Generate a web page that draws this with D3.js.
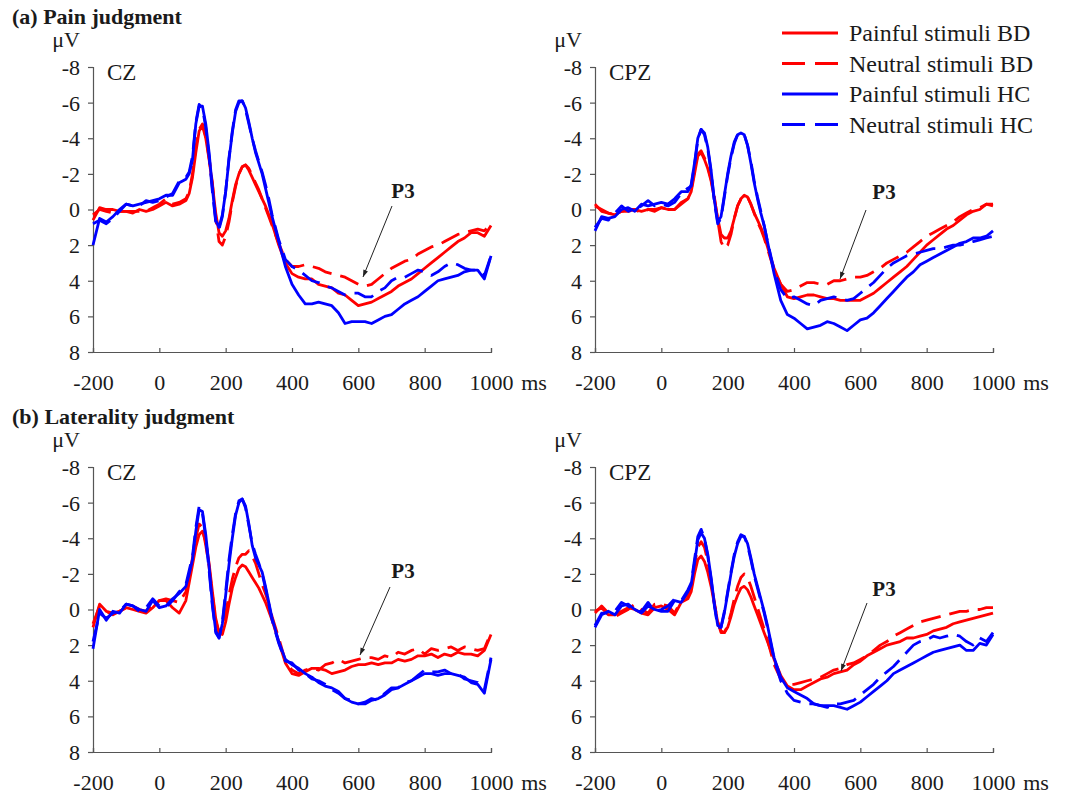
<!DOCTYPE html>
<html>
<head>
<meta charset="utf-8">
<script src="https://cdn.jsdelivr.net/npm/d3@7"></script>
<style>
  html, body { margin: 0; padding: 0; background: #fff; }
  svg { display: block; }
  text { font-family: "Liberation Serif", "Times New Roman", serif; fill: #1a1a1a; }
</style>
</head>
<body>
<svg id="chart" width="1069" height="794"></svg>
<script>
// ---------- DATA ----------
const time = [-200,-180,-160,-140,-120,-100,-80,-60,-40,-20,0,20,40,60,
  80,90,100,110,120,130,140,150,160,170,180,190,200,210,220,230,240,250,260,270,280,290,300,310,320,330,340,
  360,380,400,420,440,460,480,500,520,540,560,580,600,620,640,660,680,700,720,740,760,780,800,820,840,860,880,900,920,940,960,980,1000];

const yTicks = [-8,-6,-4,-2,0,2,4,6,8];
const xTicks = [-200,0,200,400,600,800,1000];

const seriesNames = ["Painful stimuli BD","Neutral stimuli BD","Painful stimuli HC","Neutral stimuli HC"];
const seriesColors = ["#ff0000","#ff0000","#0000ff","#0000ff"];
const seriesDashed = [false,true,false,true];

const panelTitles = ["(a) Pain judgment","(b) Laterality judgment"];
const electrodes = ["CZ","CPZ","CZ","CPZ"];

// (a) Pain judgment, CZ
const painCZ_pBD = [0.6,-0.1,0,0,0.1,0.1,0.2,0,0.1,0,-0.2,-0.4,-0.2,-0.3,
  -0.5,-0.9,-1.8,-3.2,-4.4,-4.7,-4.0,-2.8,-1.4,0.2,1.3,1.5,1.2,0.5,-0.5,-1.4,-2.0,-2.4,-2.5,-2.2,-1.8,-1.4,-1.0,-0.6,-0.2,0.3,0.8,
  2.0,3.0,3.6,3.8,3.9,3.9,4.2,4.3,4.4,4.7,4.8,5.1,5.4,5.3,5.2,5.0,4.8,4.6,4.3,4.1,3.9,3.6,3.3,3.0,2.7,2.4,2.1,1.8,1.6,1.3,1.3,1.5,0.9];
const painCZ_nBD = [0.3,0,0.1,0.2,0.1,0.1,0.1,0.1,0.1,-0.1,-0.3,-0.6,-0.3,-0.4,
  -0.6,-1.0,-2.0,-3.5,-4.5,-4.8,-4.1,-2.9,-1.5,0.5,1.8,2.0,1.5,0.7,-0.4,-1.3,-2.0,-2.4,-2.5,-2.3,-1.9,-1.5,-1.1,-0.6,-0.1,0.4,0.9,
  1.9,2.8,3.2,3.2,3.1,3.2,3.3,3.5,3.6,3.7,3.8,4.0,4.2,4.3,4.2,3.9,3.6,3.3,3.1,2.9,2.8,2.5,2.3,2.1,2.0,1.8,1.6,1.4,1.3,1.2,1.1,1.2,0.8];
const painCZ_pHC = [2.0,0.5,0.7,0.4,0,-0.3,-0.2,-0.3,-0.4,-0.5,-0.6,-0.8,-0.8,-1.5,
  -1.7,-2.0,-2.8,-4.8,-5.8,-5.8,-4.8,-3.2,-1.2,0.6,1.0,0.3,-1.0,-2.8,-4.3,-5.5,-6.0,-6.1,-5.7,-4.9,-4.0,-3.2,-2.6,-2.0,-1.2,-0.4,0.4,
  1.8,3.2,4.2,4.8,5.3,5.3,5.2,5.3,5.4,5.8,6.4,6.3,6.3,6.3,6.4,6.2,6.0,5.9,5.6,5.3,5.1,4.9,4.6,4.3,4.0,3.9,3.8,3.7,3.5,3.4,3.4,3.9,2.6];
const painCZ_nHC = [0.8,0.6,0.8,0.5,0.1,-0.3,-0.2,-0.2,-0.5,-0.4,-0.5,-0.7,-0.9,-1.6,
  -1.8,-2.1,-3.0,-4.9,-5.9,-5.7,-4.6,-3.0,-1.0,0.7,1.1,0.4,-1.0,-2.9,-4.4,-5.6,-6.1,-6.1,-5.6,-4.8,-4.0,-3.3,-2.7,-2.1,-1.4,-0.6,0.3,
  1.7,2.8,3.2,3.4,3.7,4.0,4.1,4.3,4.4,4.6,4.8,4.7,4.7,4.9,4.9,4.6,4.4,4.0,3.8,3.8,3.6,3.4,3.5,3.7,3.5,3.2,3.0,3.1,3.3,3.4,3.4,3.7,2.6];

// (a) Pain judgment, CPZ
const painCPZ_pBD = [-0.2,0,0.2,0.3,0.1,0,0,0.1,0,0,-0.1,0,0,-0.3,
  -0.6,-1.0,-2.0,-3.0,-3.2,-2.8,-2.3,-1.6,-0.6,0.5,1.4,1.6,1.6,1.2,0.5,-0.2,-0.6,-0.8,-0.7,-0.3,0.2,0.6,1.0,1.5,2.1,2.7,3.3,
  4.2,4.9,5.0,4.9,4.8,4.8,4.9,5.0,5.0,5.1,5.1,5.1,5.1,4.9,4.7,4.4,4.1,3.8,3.5,3.2,2.8,2.4,2.0,1.7,1.4,1.1,0.9,0.6,0.3,0.1,0,-0.3,-0.3];
const painCPZ_nBD = [-0.3,0.1,0.2,0.3,0.1,0.1,0,0.2,0,0.1,-0.1,0,0,-0.4,
  -0.6,-1.1,-2.2,-3.1,-3.3,-2.9,-2.4,-1.7,-0.7,0.6,1.8,2.2,2.0,1.4,0.5,-0.2,-0.6,-0.8,-0.7,-0.3,0.2,0.7,1.1,1.6,2.2,2.8,3.4,
  4.2,4.6,4.5,4.3,4.1,4.1,4.2,4.2,4.0,4.0,3.9,3.8,3.8,3.7,3.5,3.3,3.0,2.8,2.6,2.4,2.1,1.8,1.5,1.3,1.1,0.9,0.7,0.4,0.2,0,-0.1,-0.3,-0.2];
const painCPZ_pHC = [1.2,0.4,0.5,0.4,0,-0.1,0.1,-0.3,-0.2,-0.3,-0.4,-0.3,-0.6,-1.0,
  -1.0,-1.4,-2.6,-4.0,-4.5,-4.3,-3.5,-2.2,-0.5,0.7,0.4,-0.8,-2.0,-3.0,-3.8,-4.2,-4.3,-4.2,-3.6,-2.6,-1.5,-0.6,0.2,0.9,1.8,2.7,3.6,
  5.1,5.9,6.1,6.4,6.7,6.6,6.5,6.3,6.4,6.6,6.8,6.5,6.2,6.1,5.8,5.4,5.0,4.6,4.2,3.8,3.5,3.1,2.9,2.7,2.5,2.3,2.1,1.9,1.8,1.6,1.6,1.5,1.2];
const painCPZ_nHC = [1.0,0.5,0.6,0.2,-0.2,0.1,0,-0.2,-0.5,-0.2,-0.3,-0.2,-0.4,-0.9,
  -1.2,-1.3,-2.5,-3.9,-4.5,-4.2,-3.4,-2.1,-0.4,0.8,0.5,-0.7,-1.9,-2.9,-3.7,-4.2,-4.3,-4.2,-3.6,-2.7,-1.6,-0.7,0.1,0.9,1.8,2.6,3.4,
  4.5,5.0,4.9,5.1,5.3,5.4,5.1,5.0,4.9,5.0,5.1,5.0,4.7,4.4,4.1,3.7,3.3,3.0,2.8,2.6,2.5,2.4,2.3,2.2,2.2,2.1,2.0,2.0,1.9,1.8,1.7,1.6,1.5];

// (b) Laterality judgment, CZ
const latCZ_pBD = [1.0,-0.3,0.1,0.2,0.1,-0.1,0,0.1,0.2,-0.1,-0.5,-0.5,-0.1,0.2,
  -0.5,-1.5,-2.5,-3.5,-4.2,-4.4,-3.8,-2.6,-1.0,0.5,1.3,1.4,0.7,-0.3,-1.2,-1.8,-2.3,-2.5,-2.4,-2.1,-1.8,-1.5,-1.2,-0.8,-0.4,0.1,0.6,
  1.8,3.0,3.6,3.7,3.5,3.3,3.3,3.4,3.6,3.5,3.4,3.2,3.1,3.1,3.0,3.1,3.0,3.0,2.8,2.9,2.8,2.6,2.6,2.5,2.7,2.5,2.6,2.4,2.5,2.5,2.6,2.3,1.4];
const latCZ_nBD = [0.8,-0.2,0.1,0.3,0.1,-0.1,-0.2,0,0.1,-0.3,-0.5,-0.6,-0.5,-0.4,
  -1.0,-1.8,-2.9,-4.0,-4.8,-4.6,-3.6,-2.4,-0.8,0.6,1.4,1.2,0.2,-0.8,-1.7,-2.4,-2.9,-3.1,-3.1,-3.3,-3.0,-2.6,-2.0,-1.4,-0.9,-0.3,0.4,
  1.6,2.9,3.4,3.6,3.4,3.3,3.4,3.1,3.0,2.8,3.0,2.9,2.8,2.7,2.7,2.8,2.6,2.7,2.4,2.5,2.3,2.2,2.5,2.2,2.3,2.2,2.1,2.3,2.1,2.2,2.3,2.2,1.3];
const latCZ_pHC = [2.2,0.0,0.6,0.1,0.2,-0.3,-0.2,0.0,0.1,-0.5,-0.1,-0.2,-0.6,-0.9,
  -1.3,-2.0,-2.8,-4.4,-5.6,-5.5,-4.2,-2.4,-0.3,1.2,1.6,0.8,-0.8,-2.5,-4.0,-5.3,-6.0,-6.2,-5.8,-4.8,-3.6,-2.9,-2.5,-2.1,-1.3,-0.4,0.5,
  1.8,2.8,3.1,3.3,3.6,3.8,4.1,4.3,4.4,4.6,5.0,5.2,5.3,5.3,5.1,5.0,4.8,4.5,4.4,4.2,4.0,3.8,3.6,3.6,3.7,3.6,3.6,3.7,3.8,4.1,4.2,4.7,2.8];
const latCZ_nHC = [1.8,0.2,0.5,0.2,0.1,-0.3,-0.2,0.1,-0.1,-0.6,-0.2,-0.1,-0.5,-1.0,
  -1.4,-2.2,-3.0,-4.6,-5.8,-5.4,-4.0,-2.2,-0.2,1.3,1.6,0.7,-1.0,-2.8,-4.2,-5.4,-6.1,-6.2,-5.7,-4.7,-3.7,-3.1,-2.6,-2.0,-1.2,-0.3,0.6,
  1.9,2.9,3.0,3.4,3.6,3.9,4.0,4.2,4.5,4.7,5.0,5.1,5.3,5.2,5.0,5.1,4.7,4.4,4.4,4.1,4.0,3.7,3.4,3.5,3.5,3.4,3.6,3.6,3.9,4.0,4.1,4.5,2.7];

// (b) Laterality judgment, CPZ
const latCPZ_pBD = [0.1,-0.1,0.3,0.3,0.1,-0.1,0,0.2,0.3,-0.1,-0.2,0,0.3,-0.4,
  -0.6,-1.0,-2.0,-2.8,-3.0,-2.7,-2.1,-1.3,-0.3,0.7,1.2,1.3,1.0,0.4,-0.3,-0.8,-1.2,-1.3,-1.1,-0.7,-0.2,0.3,0.8,1.3,1.8,2.3,2.8,
  3.7,4.3,4.5,4.5,4.3,4.1,3.9,3.8,3.6,3.5,3.4,3.1,2.9,2.6,2.4,2.2,2.0,1.9,1.8,1.6,1.6,1.5,1.4,1.2,1.1,1.0,0.8,0.7,0.6,0.5,0.4,0.3,0.2];
const latCPZ_nBD = [0.2,-0.2,0.2,0.4,0.2,0,-0.3,0,0.2,-0.3,-0.3,-0.2,0.2,-0.5,
  -0.8,-1.3,-2.5,-3.5,-3.8,-3.5,-2.7,-1.6,-0.4,0.7,1.3,1.3,0.9,0.2,-0.6,-1.3,-1.8,-2.0,-1.8,-1.3,-0.7,-0.1,0.5,1.1,1.7,2.4,3.1,
  3.9,4.2,4.2,4.1,4.0,3.9,3.8,3.6,3.4,3.3,3.1,3.0,2.8,2.6,2.3,2.0,1.8,1.5,1.3,1.1,0.9,0.7,0.6,0.5,0.4,0.3,0.2,0.1,0.1,0,0,-0.1,-0.1];
const latCPZ_pHC = [1.0,0.3,0.1,0.3,-0.2,-0.3,0,0.2,-0.2,0,0.1,0.1,-0.5,-0.4,
  -1.0,-1.4,-2.6,-3.9,-4.3,-4.0,-3.1,-1.8,-0.3,0.9,1.0,0.2,-0.9,-2.0,-3.0,-3.7,-4.1,-4.1,-3.7,-2.9,-2.0,-1.3,-0.6,0.1,0.9,1.8,2.7,
  3.8,4.4,4.6,4.8,5.0,5.3,5.4,5.4,5.4,5.5,5.6,5.4,5.2,4.9,4.6,4.3,4.0,3.6,3.4,3.2,3.0,2.8,2.6,2.4,2.3,2.2,2.1,2.0,2.3,2.3,1.9,2.0,1.4];
const latCPZ_nHC = [0.9,0.2,0.2,0.1,-0.4,-0.2,0.1,0.1,-0.4,0.1,0,-0.2,-0.6,-0.5,
  -1.1,-1.5,-2.8,-4.1,-4.5,-4.0,-3.0,-1.7,-0.2,1.0,1.0,0.1,-1.0,-2.1,-3.1,-3.8,-4.2,-4.1,-3.6,-2.8,-1.9,-1.2,-0.5,0.2,1.0,1.9,2.8,
  4.0,4.7,5.1,5.2,5.3,5.3,5.4,5.5,5.3,5.3,5.2,5.1,4.8,4.5,4.2,3.8,3.5,3.2,2.8,2.4,2.0,1.8,1.7,1.5,1.6,1.5,1.4,1.5,1.8,2.0,1.6,1.8,1.3];

const panelSeries = [
  [painCZ_pBD, painCZ_nBD, painCZ_pHC, painCZ_nHC],
  [painCPZ_pBD, painCPZ_nBD, painCPZ_pHC, painCPZ_nHC],
  [latCZ_pBD, latCZ_nBD, latCZ_pHC, latCZ_nHC],
  [latCPZ_pBD, latCPZ_nBD, latCPZ_pHC, latCPZ_nHC]
];

// ---------- LAYOUT ----------
const svg = d3.select("#chart");
const panels = [
  {x0: 93,  x1: 491, y0: 67,  y1: 352},
  {x0: 595, x1: 993, y0: 67,  y1: 352},
  {x0: 93,  x1: 491, y0: 467, y1: 752},
  {x0: 595, x1: 993, y0: 467, y1: 752}
];
// P3 annotation geometry per panel: label pos and arrow (from, to)
const p3 = [
  {lx: 403, ly: 198, ax1: 392, ay1: 206, ax2: 363, ay2: 277},
  {lx: 884, ly: 199, ax1: 866, ay1: 210, ax2: 840, ay2: 279},
  {lx: 403, ly: 578, ax1: 390, ay1: 587, ax2: 360, ay2: 655},
  {lx: 884, ly: 596, ax1: 867, ay1: 603, ax2: 841, ay2: 671}
];

// titles
svg.append("text").attr("x", 12).attr("y", 24).attr("font-size", 22).attr("font-weight", "bold").text(panelTitles[0]);
svg.append("text").attr("x", 12).attr("y", 424).attr("font-size", 22).attr("font-weight", "bold").text(panelTitles[1]);

svg.append("defs").append("marker")
  .attr("id", "arrow").attr("viewBox", "0 0 10 10").attr("refX", 10).attr("refY", 5)
  .attr("markerWidth", 14).attr("markerHeight", 7).attr("markerUnits", "userSpaceOnUse")
  .attr("orient", "auto")
  .append("path").attr("d", "M0,1.5 L10,5 L0,8.5 Z").attr("fill", "#222");

panels.forEach((p, i) => {
  const x = d3.scaleLinear().domain([-200, 1000]).range([p.x0, p.x1]);
  const y = d3.scaleLinear().domain([-8, 8]).range([p.y0, p.y1]);
  const g = svg.append("g");

  // y axis
  const ya = g.append("g").attr("transform", `translate(${p.x0},0)`)
    .call(d3.axisLeft(y).tickValues(yTicks).tickSize(5).tickPadding(8).tickFormat(d => String(d)));
  // x axis
  const xa = g.append("g").attr("transform", `translate(0,${p.y1})`)
    .call(d3.axisBottom(x).tickValues(xTicks).tickSize(-4).tickPadding(16).tickFormat(d => String(d)));
  [ya, xa].forEach(a => {
    a.select(".domain").attr("stroke", "#555").attr("stroke-width", 1.2);
    a.selectAll(".tick line").attr("stroke", "#555").attr("stroke-width", 1.2);
    a.selectAll(".tick text").attr("font-family", "'Liberation Serif', serif").attr("font-size", 22).attr("fill", "#1a1a1a");
  });
  ya.selectAll(".tick text").attr("dy", "0.34em");
  xa.selectAll(".tick text").attr("dy", "1.0em");

  // unit labels
  g.append("text").attr("x", p.x0 - 27).attr("y", p.y0 - 20).attr("text-anchor", "middle").attr("font-size", 22).text("μV");
  g.append("text").attr("x", p.x1 + 43).attr("y", p.y1 + 38).attr("text-anchor", "middle").attr("font-size", 22).text("ms");
  g.append("text").attr("x", p.x0 + 14).attr("y", p.y0 + 13).attr("font-size", 23).text(electrodes[i]);

  // curves
  const line = d3.line().x((d, k) => x(time[k])).y(d => y(d));
  panelSeries[i].forEach((vals, s) => {
    g.append("path").datum(vals)
      .attr("d", line)
      .attr("fill", "none")
      .attr("stroke", seriesColors[s])
      .attr("stroke-width", 2.8)
      .attr("stroke-linejoin", "round")
      .attr("stroke-dasharray", seriesDashed[s] ? "20,9" : null);
  });

  // P3 annotation
  const a = p3[i];
  g.append("text").attr("x", a.lx).attr("y", a.ly).attr("text-anchor", "middle")
    .attr("font-size", 21).attr("font-weight", "bold").text("P3");
  g.append("line").attr("x1", a.ax1).attr("y1", a.ay1).attr("x2", a.ax2).attr("y2", a.ay2)
    .attr("stroke", "#222").attr("stroke-width", 1).attr("marker-end", "url(#arrow)");
});

// legend
const legend = svg.append("g");
seriesNames.forEach((name, s) => {
  const ly = 33 + s * 30.5;
  legend.append("line").attr("x1", 782).attr("x2", 838).attr("y1", ly).attr("y2", ly)
    .attr("stroke", seriesColors[s]).attr("stroke-width", 2.8)
    .attr("stroke-dasharray", seriesDashed[s] ? "23,10" : null);
  legend.append("text").attr("x", 849).attr("y", ly + 8).attr("font-size", 24).text(name);
});
</script>
</body>
</html>
